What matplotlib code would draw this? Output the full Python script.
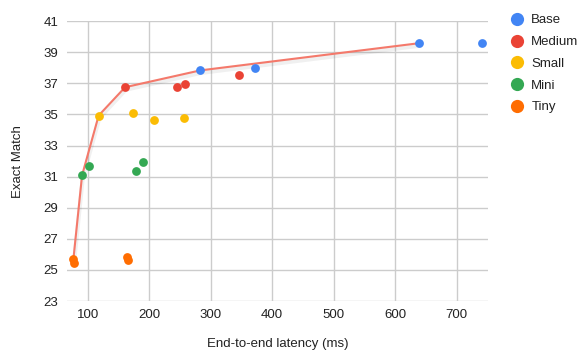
import matplotlib
matplotlib.use("Agg")
import matplotlib.pyplot as plt
import matplotlib.patheffects as pe
from matplotlib.lines import Line2D

plt.rcParams['font.family'] = ['Liberation Sans', 'DejaVu Sans']

series = ["Base", "Medium", "Small", "Mini", "Tiny"]
colors = ["#4285F4", "#EA4335", "#FBBC04", "#34A853", "#FF6D01"]
latency = {
    "Base":   [283, 373, 639, 741],
    "Medium": [161, 246, 258, 347],
    "Small":  [118, 174, 208, 257],
    "Mini":   [91, 102, 179, 190],
    "Tiny":   [77, 78, 164, 165],
}
exact_match = {
    "Base":   [37.83, 37.97, 39.58, 39.58],
    "Medium": [36.75, 36.77, 36.97, 37.54],
    "Small":  [34.93, 35.08, 34.65, 34.76],
    "Mini":   [31.08, 31.70, 31.35, 31.93],
    "Tiny":   [25.72, 25.42, 25.81, 25.66],
}
frontier_x = [77, 91, 118, 161, 283, 639]
frontier_y = [25.72, 31.08, 34.93, 36.75, 37.83, 39.58]

yticks = [23, 25, 27, 29, 31, 33, 35, 37, 39, 41]
xticks = [100, 200, 300, 400, 500, 600, 700]

fig = plt.figure(figsize=(5.85, 3.58), dpi=100)
ax = fig.add_axes([0.114, 0.159, 0.721, 0.782])

ax.plot(frontier_x, frontier_y, color="#F4796B", lw=1.5, zorder=3,
        path_effects=[pe.SimpleLineShadow(offset=(0.5, -1.8), shadow_color="#000000", alpha=0.06, linewidth=3),
                      pe.Normal()])

for name, c in zip(series, colors):
    ax.scatter(latency[name], exact_match[name], s=40, color=c, zorder=4, linewidths=0)

ax.set_xlim(66, 752)
ax.set_ylim(23, 41)
ax.set_xticks(xticks)
ax.set_yticks(yticks)
ax.grid(True, color="#cccccc", lw=1)
ax.set_axisbelow(True)
for s in ax.spines.values():
    s.set_visible(False)
ax.tick_params(length=0, labelsize=9.5, colors="#222222", pad=6)
ax.set_xlabel("End-to-end latency (ms)", fontsize=9.5, color="#222222", labelpad=12)
ax.set_ylabel("Exact Match", fontsize=9.5, color="#222222", labelpad=14)

handles = [Line2D([], [], marker='o', ls='', markersize=9.5, color=c, markeredgewidth=0) for c in colors]
fig.legend(handles, series, loc="upper left", bbox_to_anchor=(0.862, 0.975), frameon=False,
           fontsize=9.5, handletextpad=0.45, labelspacing=0.72, borderaxespad=0, handlelength=1.2,
           labelcolor="#222222")

fig.savefig("out.png", dpi=100)
